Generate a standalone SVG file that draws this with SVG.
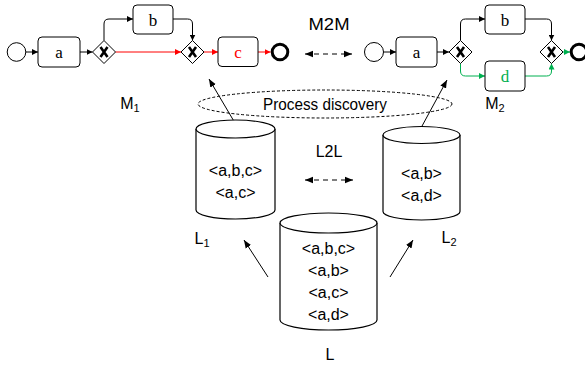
<svg xmlns="http://www.w3.org/2000/svg" width="585" height="366" viewBox="0 0 585 366">
<style>
.task{fill:#fff;stroke:#000;stroke-width:1}
.tl{font-family:"Liberation Serif",serif;font-size:17px;text-anchor:middle}
.lbl{font-family:"Liberation Sans",Arial,sans-serif;font-size:16px;text-anchor:middle;fill:#000}
.gw{fill:#fff;stroke:#000;stroke-width:1}
.gx{stroke:#000;stroke-width:2.6;fill:none;stroke-linecap:butt}
.fl{fill:none;stroke:#000;stroke-width:1}
.red{stroke:#ff0000}
.grn{stroke:#00b050}
.cyl{fill:#fff;stroke:#000;stroke-width:1.2}
.dash{fill:none;stroke:#000;stroke-width:1.2;stroke-dasharray:5,4}
</style>
<defs>
<marker id="ab" viewBox="0 0 10 10" refX="10" refY="5" markerWidth="6" markerHeight="6" orient="auto" markerUnits="userSpaceOnUse"><path d="M0,0 L10,5 L0,10 z" fill="#000"/></marker>
<marker id="ar" viewBox="0 0 10 10" refX="10" refY="5" markerWidth="6" markerHeight="6" orient="auto" markerUnits="userSpaceOnUse"><path d="M0,0 L10,5 L0,10 z" fill="#ff0000"/></marker>
<marker id="ag" viewBox="0 0 10 10" refX="10" refY="5" markerWidth="6" markerHeight="6" orient="auto" markerUnits="userSpaceOnUse"><path d="M0,0 L10,5 L0,10 z" fill="#00b050"/></marker>
<marker id="ak" viewBox="0 0 10 10" refX="10" refY="5" markerWidth="8" markerHeight="8" orient="auto" markerUnits="userSpaceOnUse"><path d="M0,1 L10,5 L0,9 z" fill="#000"/></marker>
<marker id="aks" viewBox="0 0 10 10" refX="0" refY="5" markerWidth="8" markerHeight="8" orient="auto" markerUnits="userSpaceOnUse"><path d="M10,1 L0,5 L10,9 z" fill="#000"/></marker>
</defs>

<g id="connectors">
<!-- M1 -->
<path class="fl" d="M26,52 H38" marker-end="url(#ab)"/>
<path class="fl" d="M80,52 H92.5" marker-end="url(#ab)"/>
<path class="fl" d="M104,40.5 V24 Q104,19 109,19 H133" marker-end="url(#ab)"/>
<path class="fl" d="M173,19 H187.5 Q192.5,19 192.5,24 V40.5" marker-end="url(#ab)"/>
<path class="fl red" d="M115.5,52 H181" marker-end="url(#ar)"/>
<path class="fl red" d="M204,52 H218" marker-end="url(#ar)"/>
<path class="fl red" d="M258,52 H270.5" marker-end="url(#ar)"/>
<!-- M2 -->
<path class="fl" d="M383.5,52 H396" marker-end="url(#ab)"/>
<path class="fl" d="M437,52 H449" marker-end="url(#ab)"/>
<path class="fl" d="M460.5,40.5 V24 Q460.5,19 465.5,19 H485" marker-end="url(#ab)"/>
<path class="fl" d="M525,19 H546.5 Q551.5,19 551.5,24 V40.5" marker-end="url(#ab)"/>
<path class="fl grn" d="M460.5,63.5 V71 Q460.5,76 465.5,76 H485" marker-end="url(#ag)"/>
<path class="fl grn" d="M525,76 H546.5 Q551.5,76 551.5,71 V63.5" marker-end="url(#ag)"/>
<path class="fl grn" d="M563,52 H570" marker-end="url(#ag)"/>
<!-- discovery arrows -->
<path class="fl" d="M235,123 L209,79" marker-end="url(#ak)"/>
<path class="fl" d="M421.5,127 L447,80" marker-end="url(#ak)"/>
<path class="fl" d="M268,277 L244,240" marker-end="url(#ak)"/>
<path class="fl" d="M390,277 L413,240" marker-end="url(#ak)"/>
<!-- comparison arrows -->
<path class="dash" d="M305,54 H352" marker-start="url(#aks)" marker-end="url(#ak)"/>
<path class="dash" d="M305,180 H353" marker-start="url(#aks)" marker-end="url(#ak)"/>
</g>

<g id="model1">
<circle cx="16.5" cy="52" r="9.3" fill="#fff" stroke="#000" stroke-width="1"/>
<rect class="task" x="38" y="37" width="42" height="30" rx="4"/>
<text class="tl" x="59" y="58">a</text>
<path class="gw" d="M104,40.5 L115.5,52 L104,63.5 L92.5,52 z"/>
<path class="gx" d="M100.5,47 L107.5,57 M107.5,47 L100.5,57"/>
<rect class="task" x="133" y="5" width="40" height="29" rx="4"/>
<text class="tl" x="153" y="25.5">b</text>
<path class="gw" d="M192.5,40.5 L204,52 L192.5,63.5 L181,52 z"/>
<path class="gx" d="M189,47 L196,57 M196,47 L189,57"/>
<rect class="task" x="218" y="37" width="40" height="29.5" rx="4" stroke="#ff0000" fill="#fff"/>
<text class="tl" x="238" y="58" fill="#ff0000">c</text>
<circle cx="280" cy="52" r="7.8" fill="#fff" stroke="#000" stroke-width="3"/>
<text class="lbl" x="130" y="109" text-anchor="start">M<tspan font-size="11px" dy="3">1</tspan></text>
</g>

<g id="model2">
<circle cx="374" cy="52" r="9.5" fill="#fff" stroke="#000" stroke-width="1"/>
<rect class="task" x="396" y="37" width="41" height="30" rx="4"/>
<text class="tl" x="416.5" y="58">a</text>
<path class="gw" d="M460.5,40.5 L472,52 L460.5,63.5 L449,52 z"/>
<path class="gx" d="M457,47 L464,57 M464,47 L457,57"/>
<rect class="task" x="485" y="5" width="40" height="29" rx="4"/>
<text class="tl" x="505" y="25.5">b</text>
<rect class="task" x="485" y="61" width="40" height="30" rx="4" stroke="#00b050"/>
<text class="tl" x="505" y="82" fill="#00b050">d</text>
<path class="gw" d="M551.5,40.5 L563,52 L551.5,63.5 L540,52 z"/>
<path class="gx" d="M548,47 L555,57 M555,47 L548,57"/>
<circle cx="579" cy="52" r="7.8" fill="#fff" stroke="#000" stroke-width="3"/>
<text class="lbl" x="495" y="109" text-anchor="start">M<tspan font-size="11px" dy="3">2</tspan></text>
</g>

<g id="m2m">
<text class="lbl" x="329" y="30" textLength="41" lengthAdjust="spacingAndGlyphs">M2M</text>
</g>

<g id="discovery">
<ellipse cx="325" cy="104" rx="127" ry="14" fill="none" stroke="#000" stroke-width="1" stroke-dasharray="3,2"/>
<text class="lbl" x="325" y="109.5" textLength="124" lengthAdjust="spacingAndGlyphs">Process discovery</text>
</g>

<g id="L1">
<path class="cyl" d="M196,129 V210 A39.5,9 0 0 0 275,210 V129"/>
<ellipse class="cyl" cx="235.5" cy="129" rx="39.5" ry="9"/>
<text class="lbl" x="235.5" y="175.5">&lt;a,b,c&gt;</text>
<text class="lbl" x="235.5" y="198">&lt;a,c&gt;</text>
<text class="lbl" x="202" y="244" text-anchor="start">L<tspan font-size="11px" dy="3">1</tspan></text>
</g>

<g id="L2">
<path class="cyl" d="M383,135 V211.5 A38.5,8.5 0 0 0 460,211.5 V135"/>
<ellipse class="cyl" cx="421.5" cy="135" rx="38.5" ry="8.5"/>
<text class="lbl" x="421.5" y="178.5">&lt;a,b&gt;</text>
<text class="lbl" x="421.5" y="200.5">&lt;a,d&gt;</text>
<text class="lbl" x="449" y="243" text-anchor="start">L<tspan font-size="11px" dy="3">2</tspan></text>
</g>

<g id="l2l">
<text class="lbl" x="329" y="157">L2L</text>
</g>

<g id="L">
<path class="cyl" d="M280,223 V320 A48.5,10 0 0 0 377,320 V223"/>
<ellipse class="cyl" cx="328.5" cy="223" rx="48.5" ry="10"/>
<text class="lbl" x="328.5" y="253.5">&lt;a,b,c&gt;</text>
<text class="lbl" x="328.5" y="276">&lt;a,b&gt;</text>
<text class="lbl" x="328.5" y="298">&lt;a,c&gt;</text>
<text class="lbl" x="328.5" y="320">&lt;a,d&gt;</text>
<text class="lbl" x="330" y="360">L</text>
</g>
</svg>
